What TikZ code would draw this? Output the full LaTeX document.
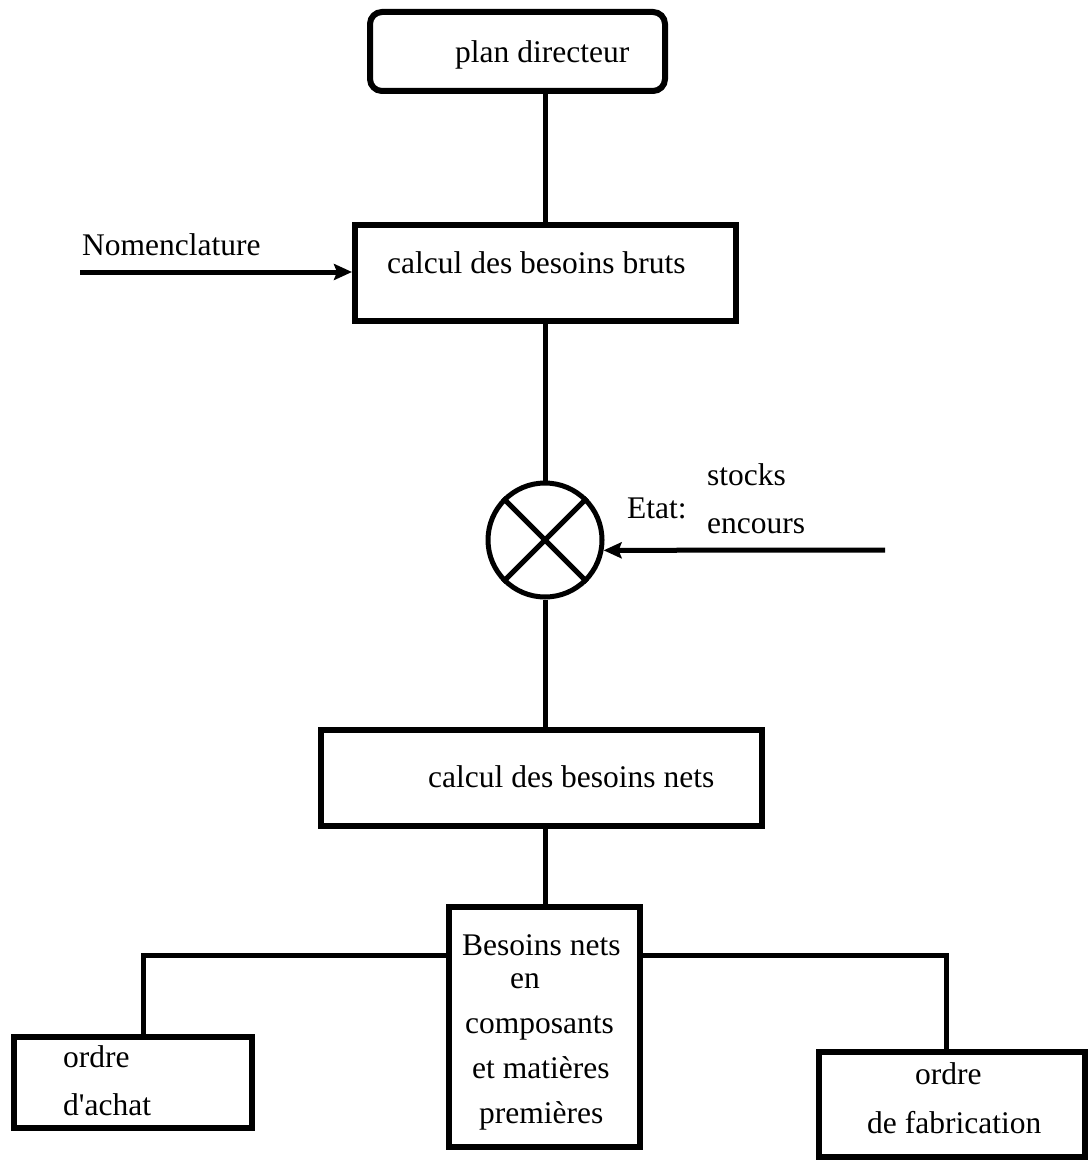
\documentclass[tikz,border=0pt]{standalone}
\usepackage{fontspec}
\setmainfont{Liberation Serif}
\usetikzlibrary{arrows.meta,calc}
\begin{document}
\begin{tikzpicture}[x=1pt,y=-1pt,
  every node/.style={font=\fontsize{31.5}{36}\selectfont},
  box/.style={draw,line width=6pt,inner sep=0pt},
  txt/.style={anchor=base west,inner sep=0pt},
  link/.style={line width=5pt},
  arr/.style={line width=5pt,-{Stealth[length=18pt,width=16pt,inset=3pt]}}]
\useasboundingbox[fill=white] (0,0) rectangle (1091,1166);

% process boxes
\node[box,rounded corners=12pt,minimum width=295pt,minimum height=79pt] (plan) at (517.5,51.5) {};
\node[box,minimum width=381pt,minimum height=96pt] (bruts) at (545.5,273) {};
\node[draw,circle,line width=5pt,minimum size=114pt,inner sep=0pt] (circ) at (545,540) {};
\node[box,minimum width=441pt,minimum height=96pt] (net) at (541.5,778) {};
\node[box,minimum width=191pt,minimum height=240pt] (bes) at (544.5,1027) {};
\node[box,minimum width=238pt,minimum height=91pt] (achat) at (133,1082.5) {};
\node[box,minimum width=266pt,minimum height=105pt] (fab) at (952,1104.5) {};

% cross inside the comparator
\draw[link] (circ.45) -- (circ.225);
\draw[link] (circ.135) -- (circ.-45);

% box texts
\node[txt] (tplan) at (455,63) {plan directeur};
\node[txt] (tbruts) at (387,273) {calcul des besoins bruts};
\node[txt] (tnet) at (428,787) {calcul des besoins nets};
\node[txt] (tb1) at (462,955) {Besoins nets};
\node[txt] (tb2) at (510,988) {en};
\node[txt] (tb3) at (465,1033) {composants};
\node[txt] (tb4) at (472,1078) {et matières};
\node[txt] (tb5) at (479,1123) {premières};
\node[txt] (ta1) at (63,1067) {ordre};
\node[txt] (ta2) at (63,1115) {d\textquotesingle achat};
\node[txt] (tf1) at (915,1084) {ordre};
\node[txt] (tf2) at (867,1133) {de fabrication};

% inputs
\node[txt] (tnom) at (82,255) {Nomenclature};
\node[txt] (tetat) at (627,518) {Etat:};
\node[txt] (tstock) at (707,485) {stocks};
\node[txt] (tenc) at (707,533) {encours};

\coordinate (nomin) at (80,272);
\coordinate (stkin) at (885,550);
\draw[arr] (nomin) -- (nomin -| bruts.west);
\draw[arr] (stkin) -- (circ.-10);

% main chain
\draw[link] (bruts.north |- plan.south) -- (bruts.north);
\draw[link] (bruts.south -| circ.north) -- (circ.north);
\draw[link] (circ.south) -- (circ.south |- net.north);
\draw[link] (circ.south |- net.south) -- (circ.south |- bes.north);

% branches to the orders
\coordinate (la) at (143,955);
\coordinate (lf) at (946,955);
\draw[link] (bes.west |- la) -- (la) -- (la |- achat.north);
\draw[link] (bes.east |- lf) -- (lf) -- (lf |- fab.north);
\end{tikzpicture}
\end{document}
